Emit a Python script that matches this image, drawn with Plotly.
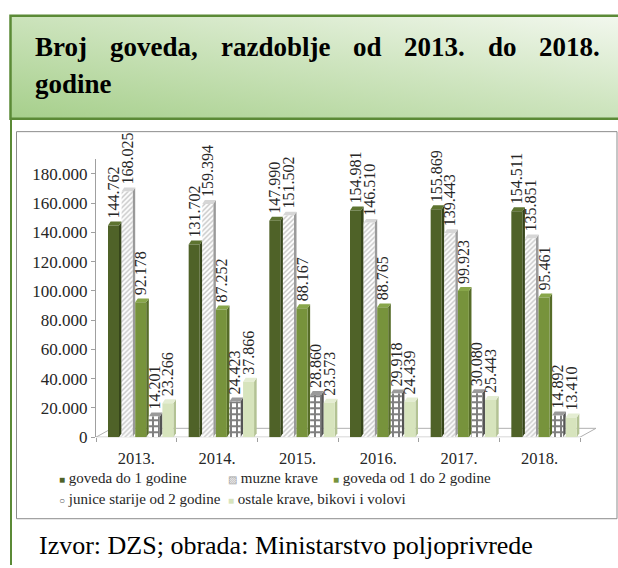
import base64
import plotly.graph_objects as go

# ---------------- data ----------------
years = ["2013.", "2014.", "2015.", "2016.", "2017.", "2018."]
series_names = [
    "goveda do 1 godine",
    "muzne krave",
    "goveda od 1 do 2 godine",
    "junice starije od 2 godine",
    "ostale krave, bikovi i volovi",
]
goveda_do_1 = [144762, 131702, 147990, 154981, 155869, 154511]
muzne_krave = [168025, 159394, 151502, 146510, 139443, 135851]
goveda_1_do_2 = [92178, 87252, 88167, 88765, 99923, 95461]
junice = [14201, 24423, 28860, 29918, 30080, 14892]
ostale = [23266, 37866, 23573, 24439, 25443, 13410]
y_tick_vals = [0, 20000, 40000, 60000, 80000, 100000, 120000, 140000, 160000, 180000]
y_tick_text = ["0", "20.000", "40.000", "60.000", "80.000", "100.000",
               "120.000", "140.000", "160.000", "180.000"]
title_line1 = "Broj goveda, razdoblje od 2013. do 2018."
title_line2 = "godine"
source_text = "Izvor: DZS; obrada: Ministarstvo poljoprivrede"

# ---------------- geometry / style ----------------
W, H = 618, 568
SERIF = "Liberation Serif"


def px(x):
    return x / W


def py(y):
    return 1 - y / H


AX_X0, AX_X1 = 96, 598          # plot area in pixels
Y0_PX, Y180_PX = 445, 177       # pixel of value 0 and 180000
unit_px = (580 - AX_X0) / 6.0   # pixels per category
x_range = [-0.5, -0.5 + (AX_X1 - AX_X0) / unit_px]
val_per_px = 180000 / (Y0_PX - Y180_PX)
y_top_val = 190000
y_top_px = Y0_PX - y_top_val / val_per_px

slot_px, front_px, depth_px, rise_px = 13.6, 11.0, 2.6, 4.0
slot = slot_px / unit_px
front_w = front_px / unit_px
ddx = depth_px / unit_px
ddy = rise_px * val_per_px
group_start = (108 - (AX_X0 + unit_px * 0.5)) / unit_px

styles = [
    dict(color="#4f6228", side="#36451a", top="#5d7330", pattern=None),
    dict(color="#ffffff", side="#9a9a9a", top="#d6d6d6",
         pattern=dict(shape="/", fgcolor="#8a8a8a", bgcolor="#ffffff", size=3.5, solidity=0.4)),
    dict(color="#77933c", side="#566c28", top="#88a64a", pattern=None),
    dict(color="#ffffff", side="#555555", top="#9a9a9a",
         pattern=dict(shape="+", fgcolor="#000000", bgcolor="#ffffff", size=6, solidity=0.55)),
    dict(color="#d7e4bd", side="#b3c294", top="#e4edd2", pattern=None),
]
all_values = [goveda_do_1, muzne_krave, goveda_1_do_2, junice, ostale]

fig = go.Figure()
shapes = []

HEAD_TOP, HEAD_BOT = 16, 121
FRAME_TOP, FRAME_BOT = 134, 528

# header gradient via svg image
svg = ('<svg xmlns="http://www.w3.org/2000/svg" width="610" height="105">'
       '<defs><linearGradient id="g" x1="0" y1="1" x2="1" y2="0">'
       '<stop offset="0" stop-color="#a6cf8b"/><stop offset="0.55" stop-color="#cfe5c0"/>'
       '<stop offset="1" stop-color="#f3f8ef"/></linearGradient></defs>'
       '<rect width="610" height="105" fill="url(#g)"/></svg>')
img_src = "data:image/svg+xml;base64," + base64.b64encode(svg.encode()).decode()
fig.add_layout_image(dict(source=img_src, xref="paper", yref="paper",
                          x=px(11), y=py(HEAD_TOP), sizex=1.0, sizey=(HEAD_BOT - HEAD_TOP) / H,
                          sizing="stretch", xanchor="left", yanchor="top", layer="below"))

# header border, outer left border, chart frame
shapes.append(dict(type="rect", xref="paper", yref="paper", x0=px(10.5), x1=px(630),
                   y0=py(HEAD_TOP), y1=py(HEAD_BOT), line=dict(color="#5b8a36", width=2.5), layer="below"))
shapes.append(dict(type="line", xref="paper", yref="paper", x0=px(11), x1=px(11),
                   y0=py(HEAD_BOT), y1=py(575), line=dict(color="#5b8a36", width=2), layer="below"))
shapes.append(dict(type="rect", xref="paper", yref="paper", x0=px(16.5), x1=px(617),
                   y0=py(FRAME_TOP), y1=py(FRAME_BOT), line=dict(color="#8c8c8c", width=1), layer="below"))

# floor
fdx = 16 / unit_px
fdy = 9 * val_per_px
shapes.append(dict(type="path", xref="x", yref="y",
                   path=f"M -0.5,0 L 5.5,0 L {5.5 + fdx},{fdy} L {-0.5 + fdx},{fdy} Z",
                   line=dict(color="#b0b0b0", width=1), fillcolor="rgba(0,0,0,0)", layer="below"))


def fmt(v):
    return "\u00a0" + f"{v:,}".replace(",", ".")


for k, (name, vals, st) in enumerate(zip(series_names, all_values, styles)):
    xs = [i + group_start + k * slot + front_w / 2 for i in range(len(years))]
    marker = dict(color=st["color"], line=dict(width=0))
    if st["pattern"]:
        marker["pattern"] = st["pattern"]
    fig.add_trace(go.Bar(
        x=xs, y=vals, width=front_w, name=name, marker=marker,
        text=[fmt(v) for v in vals], textposition="outside", textangle=-90,
        constraintext="none", cliponaxis=False,
        textfont=dict(family=SERIF, size=16, color="#262626"),
        showlegend=False, hoverinfo="skip",
    ))
    for xc, v in zip(xs, vals):
        xl, xr = xc - front_w / 2, xc + front_w / 2
        shapes.append(dict(type="path", xref="x", yref="y", layer="below",
                           path=f"M {xr},0 L {xr + ddx},{ddy} L {xr + ddx},{v + ddy} L {xr},{v} Z",
                           fillcolor=st["side"], line=dict(width=0)))
        shapes.append(dict(type="path", xref="x", yref="y", layer="below",
                           path=f"M {xl},{v} L {xr},{v} L {xr + ddx},{v + ddy} L {xl + ddx},{v + ddy} Z",
                           fillcolor=st["top"], line=dict(width=0)))

annotations = []
# title, justified
tnr_bold = {'B': 667, 'r': 444, 'o': 500, 'j': 333, 'g': 500, 'v': 500, 'e': 444, 'd': 556,
            'a': 500, ',': 250, 'z': 444, 'b': 556, 'l': 278, '2': 500, '0': 500, '1': 500,
            '3': 500, '8': 500, '.': 250, 'i': 278, 'n': 556}
TSIZE = 27
words = title_line1.split()
wid = [sum(tnr_bold.get(c, 500) for c in w) / 1000 * TSIZE for w in words]
gap = (598 - 33 - sum(wid)) / (len(words) - 1)
xpos = 33
for w, ww in zip(words, wid):
    annotations.append(dict(text=f"<b>{w}</b>", x=px(xpos), y=py(48), xref="paper", yref="paper",
                            xanchor="left", yanchor="middle", showarrow=False,
                            font=dict(family=SERIF, size=TSIZE, color="#000000")))
    xpos += ww + gap
annotations.append(dict(text=f"<b>{title_line2}</b>", x=px(33), y=py(86), xref="paper", yref="paper",
                        xanchor="left", yanchor="middle", showarrow=False,
                        font=dict(family=SERIF, size=TSIZE, color="#000000")))

# source
annotations.append(dict(text=source_text, x=px(37), y=py(555), xref="paper", yref="paper",
                        xanchor="left", yanchor="middle", showarrow=False,
                        font=dict(family=SERIF, size=26, color="#000000")))

# legend (manual)
legend_symbols = [("■", "#4f6228"), ("▨", "#a0a0a0"), ("■", "#77933c"), ("○", "#555555"), ("■", "#d7e4bd")]
legend_pos = [(57, 487), (226, 487), (331, 487), (57, 508), (226, 508)]
for name, (sym, col), (lx, ly) in zip(series_names, legend_symbols, legend_pos):
    annotations.append(dict(
        text=f"<span style='color:{col};font-size:10px'>{sym}</span> {name}",
        x=px(lx), y=py(ly), xref="paper", yref="paper", xanchor="left", yanchor="middle",
        showarrow=False, font=dict(family=SERIF, size=15, color="#262626")))

fig.update_layout(
    width=W, height=H, margin=dict(l=0, r=0, t=0, b=0),
    paper_bgcolor="#ffffff", plot_bgcolor="rgba(0,0,0,0)",
    barmode="overlay", shapes=shapes, annotations=annotations,
    xaxis=dict(domain=[px(AX_X0), px(AX_X1)], range=x_range,
               tickmode="array", tickvals=list(range(len(years))), ticktext=years,
               ticks="", showgrid=False, zeroline=False, showline=False,
               tickfont=dict(family=SERIF, size=16.5, color="#262626"),
               ticklabelstandoff=9,
               minor=dict(tick0=0.5, dtick=1, ticks="outside", ticklen=4, tickcolor="#a0a0a0",
                          showgrid=False)),
    yaxis=dict(domain=[py(Y0_PX), py(y_top_px)], range=[0, y_top_val],
               tickmode="array", tickvals=y_tick_vals, ticktext=y_tick_text,
               ticks="outside", ticklen=4, tickcolor="#a0a0a0",
               showline=True, linecolor="#a0a0a0", linewidth=1,
               showgrid=False, zeroline=False,
               tickfont=dict(family=SERIF, size=17, color="#262626")),
)

css_fix = (
    "var s=document.createElement('style');"
    "s.textContent='html,body{margin:0;padding:0;overflow:hidden;width:618px;height:568px;}"
    "body>div{margin:0;padding:0;line-height:0;font-size:0;}';"
    "document.head.appendChild(s);"
)
fig.write_html("out.html", config={"displayModeBar": False}, post_script=css_fix)
